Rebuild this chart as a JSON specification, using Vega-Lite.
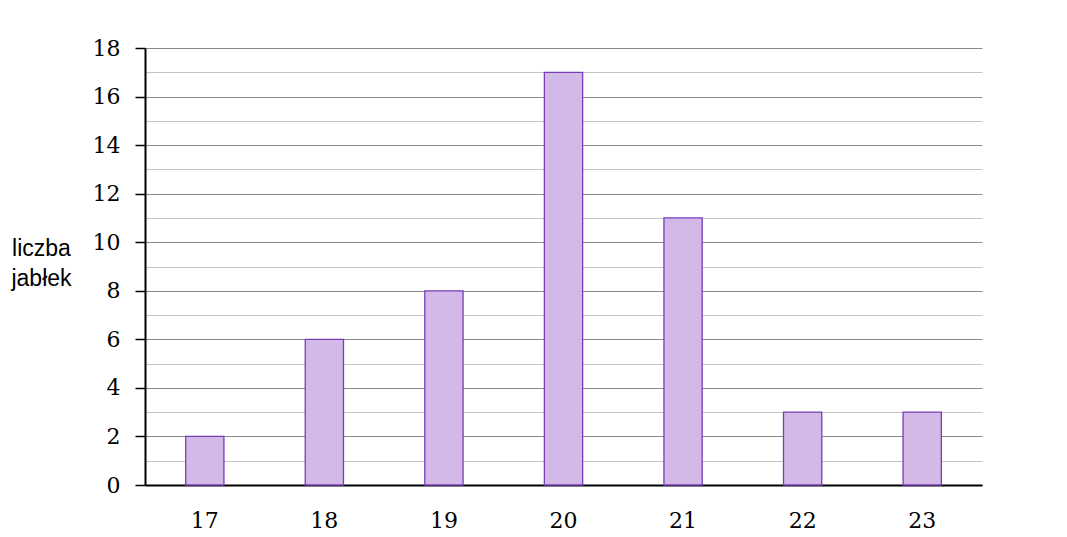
{
  "$schema": "https://vega.github.io/schema/vega-lite/v6.json",
  "autosize": {"type": "none"},
  "padding": {"left": 145, "top": 48, "right": 85, "bottom": 52},
  "width": 837,
  "height": 437,
  "background": "white",
  "data": {
    "values": [
      {"wiek": "17", "liczba": 2},
      {"wiek": "18", "liczba": 6},
      {"wiek": "19", "liczba": 8},
      {"wiek": "20", "liczba": 17},
      {"wiek": "21", "liczba": 11},
      {"wiek": "22", "liczba": 3},
      {"wiek": "23", "liczba": 3}
    ]
  },
  "config": {"view": {"stroke": null}},
  "mark": {"type": "bar", "fill": "#d3b9e8", "stroke": "#7a3db8", "strokeWidth": 1.3},
  "encoding": {
    "x": {
      "field": "wiek",
      "type": "ordinal",
      "scale": {"paddingInner": 0.68, "paddingOuter": 0.34},
      "axis": {
        "title": null,
        "labelAngle": 0,
        "labelFont": "DejaVu Serif",
        "labelFontSize": 22,
        "labelColor": "#000",
        "labelPadding": 25,
        "ticks": false,
        "domainColor": "#000",
        "domainWidth": 2
      }
    },
    "y": {
      "field": "liczba",
      "type": "quantitative",
      "scale": {"domain": [0, 18], "nice": false},
      "axis": {
        "values": [0, 1, 2, 3, 4, 5, 6, 7, 8, 9, 10, 11, 12, 13, 14, 15, 16, 17, 18],
        "labelExpr": "datum.value % 2 === 0 ? datum.label : ''",
        "labelFont": "DejaVu Serif",
        "labelFontSize": 22,
        "labelColor": "#000",
        "labelPadding": 15,
        "tickSize": 10,
        "tickColor": "#000",
        "tickWidth": 1.5,
        "tickOpacity": {"condition": {"test": "datum.value % 2 === 0", "value": 1}, "value": 0},
        "domainColor": "#000",
        "domainWidth": 2,
        "grid": true,
        "gridColor": {"condition": {"test": "datum.value % 2 === 0", "value": "#8a8a8a"}, "value": "#c4c4c4"},
        "gridWidth": 1.2,
        "title": ["liczba", "jabłek"],
        "titleFont": "Liberation Sans",
        "titleFontSize": 23,
        "titleFontWeight": "normal",
        "titleColor": "#000",
        "titleAngle": 0,
        "titleAlign": "center",
        "titleBaseline": "alphabetic",
        "titleX": -104,
        "titleY": 207,
        "titleLineHeight": 30
      }
    }
  }
}
